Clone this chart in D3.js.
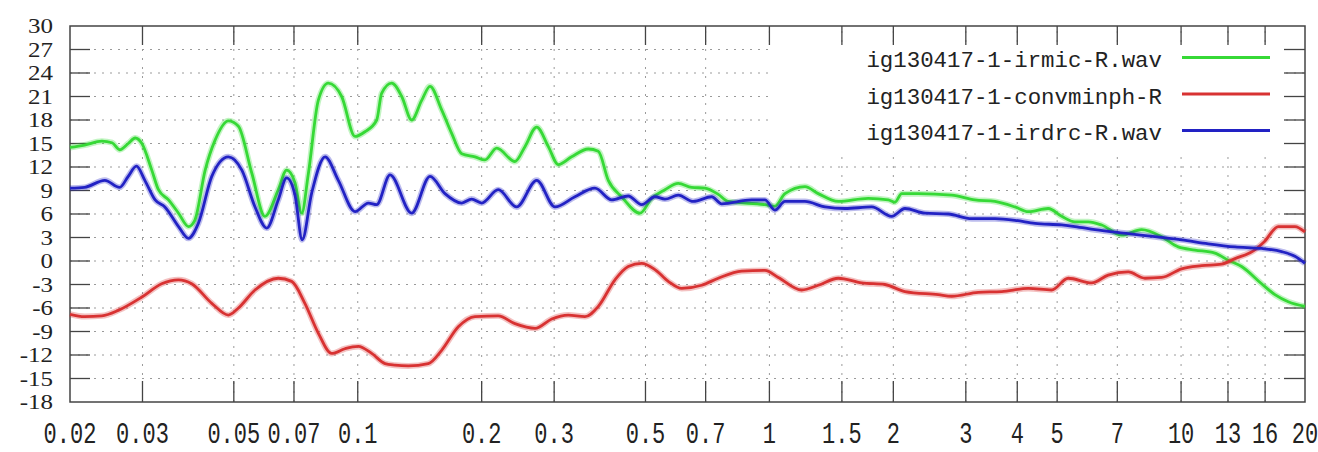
<!DOCTYPE html>
<html><head><meta charset="utf-8">
<script src="https://cdn.jsdelivr.net/npm/d3@7"></script>
<style>body{margin:0;background:#fff}svg{display:block}</style>
</head><body><svg id="c" width="1318" height="452"></svg>
<script>
const xTicks = [0.02,0.03,0.05,0.07,0.1,0.2,0.3,0.5,0.7,1,1.5,2,3,4,5,7,10,13,16,20];
const xTickLabels = ["0.02","0.03","0.05","0.07","0.1","0.2","0.3","0.5","0.7","1","1.5","2","3","4","5","7","10","13","16","20"];
const yTicks = [30,27,24,21,18,15,12,9,6,3,0,-3,-6,-9,-12,-15,-18];
const seriesNames = ["ig130417-1-irmic-R.wav","ig130417-1-convminph-R","ig130417-1-irdrc-R.wav"];
const seriesColors = ["#36d936","#d83232","#2222c4"];

const irmic = [[0.02,14.5],[0.0217,14.8],[0.0239,15.3],[0.0253,15.1],[0.0264,14.2],[0.0277,15.0],[0.0288,15.7],[0.0299,15.0],[0.0316,11.6],[0.0328,9.1],[0.0347,7.8],[0.0367,6.1],[0.0388,4.4],[0.0402,5.2],[0.0426,11.6],[0.0450,15.4],[0.0485,17.9],[0.0513,17.2],[0.0553,11.2],[0.0595,5.7],[0.0641,9.1],[0.0672,11.6],[0.0704,10],[0.0731,6.1],[0.0758,11],[0.0802,20.5],[0.0848,22.7],[0.0914,21],[0.0985,15.9],[0.1041,16.5],[0.1112,18],[0.1143,21.4],[0.1209,22.7],[0.1279,21],[0.1352,18],[0.1430,20.5],[0.1498,22.3],[0.1599,19.3],[0.1691,16.3],[0.1789,13.7],[0.1927,13.3],[0.2037,12.9],[0.2176,14.4],[0.2409,12.7],[0.2548,14.6],[0.2721,17.1],[0.2904,14.6],[0.3071,12.3],[0.3308,13.3],[0.3631,14.3],[0.3840,14],[0.4061,10.3],[0.4375,8.2],[0.4849,6.1],[0.5177,8],[0.5575,9.1],[0.6006,9.9],[0.6472,9.4],[0.6971,9.3],[0.7512,8.5],[0.7944,7.6],[0.9751,7.2],[1.031,7],[1.091,8.6],[1.220,9.5],[1.314,8.6],[1.470,7.6],[1.738,8],[1.944,7.8],[2.018,7.5],[2.096,8.6],[2.300,8.6],[2.772,8.4],[3.156,7.8],[3.531,7.6],[3.949,6.9],[4.255,6.3],[4.756,6.7],[5.128,5.7],[5.523,5],[5.949,5],[6.412,4.6],[7.171,3.3],[8.022,4],[8.970,3.1],[9.840,1.8],[10.81,1.4],[12.08,1.0],[13.02,0.1],[14.03,-0.7],[15.69,-2.9],[16.90,-4.3],[18.21,-5.2],[20,-5.8]];

const convminph = [[0.02,-6.8],[0.0217,-7.1],[0.0239,-7.0],[0.0262,-6.3],[0.0299,-4.6],[0.0334,-2.9],[0.0367,-2.4],[0.0395,-2.9],[0.0442,-5.4],[0.0485,-6.9],[0.0513,-6],[0.0563,-3.7],[0.0641,-2.2],[0.0691,-2.6],[0.0744,-5.4],[0.0802,-9.2],[0.0864,-11.8],[0.0931,-11.2],[0.1003,-10.9],[0.1081,-11.8],[0.1165,-13.1],[0.1231,-13.3],[0.1327,-13.4],[0.1484,-13.1],[0.1599,-11.4],[0.1755,-8.4],[0.1927,-7.1],[0.2194,-7.0],[0.2409,-8],[0.2696,-8.6],[0.2959,-7.4],[0.3246,-6.9],[0.3565,-7.1],[0.3840,-5.8],[0.4216,-2.4],[0.4540,-0.7],[0.4894,-0.3],[0.5272,-1.1],[0.5680,-2.6],[0.6122,-3.5],[0.6845,-3.1],[0.7512,-2.2],[0.8563,-1.3],[0.9751,-1.2],[1.051,-2.1],[1.198,-3.7],[1.314,-3.1],[1.470,-2.2],[1.675,-2.8],[1.908,-3],[2.134,-3.9],[2.570,-4.3],[2.772,-4.5],[3.216,-4],[3.666,-3.9],[4.255,-3.5],[4.848,-3.7],[5.320,-2.2],[6.065,-2.8],[6.653,-1.8],[7.442,-1.4],[8.170,-2.2],[8.970,-2.1],[10.03,-1.0],[11.22,-0.6],[12.54,-0.4],[13.52,0.3],[15.08,1.4],[15.95,2.5],[17.22,4.4],[18.90,4.4],[20,3.7]];

const irdrc = [[0.02,9.3],[0.0217,9.4],[0.0243,10.3],[0.0264,9.4],[0.0277,10.8],[0.0290,12.1],[0.0304,10.3],[0.0322,7.8],[0.0340,6.9],[0.0367,4.4],[0.0388,2.9],[0.0410,4.8],[0.0442,10.8],[0.0485,13.3],[0.0523,11.6],[0.0563,6.9],[0.0601,4.2],[0.0641,7.8],[0.0672,10.6],[0.0704,8.4],[0.0733,2.7],[0.0773,8.7],[0.0833,13.3],[0.0897,10.3],[0.0985,6.3],[0.1061,7.4],[0.1112,7.2],[0.1198,11],[0.1352,6.1],[0.1498,10.8],[0.1629,8.6],[0.1789,7.4],[0.1891,7.9],[0.2000,7.4],[0.2194,9.1],[0.2432,6.9],[0.2721,10.3],[0.3013,6.9],[0.3370,8.2],[0.3768,9.3],[0.4138,7.8],[0.4540,8.3],[0.4894,7.2],[0.5272,8.2],[0.5575,7.9],[0.6006,8.4],[0.6532,7.6],[0.7240,8.2],[0.7656,7.3],[0.9053,7.8],[0.9751,7.8],[1.031,6.5],[1.091,7.6],[1.220,7.6],[1.365,6.9],[1.526,6.7],[1.772,6.9],[1.981,5.7],[2.134,6.7],[2.388,6.1],[2.720,6],[3.100,5.4],[3.531,5.4],[3.949,5.2],[4.416,4.8],[5.128,4.6],[5.523,4.4],[6.178,4],[7.442,3.5],[8.642,3.1],[10.03,2.7],[11.64,2.2],[13.52,1.8],[15.69,1.6],[17.55,1.2],[18.90,0.6],[20,-0.3]];

const seriesData = [irmic, convminph, irdrc];

const W = 1318, H = 452;
const x = d3.scaleLog().domain([0.02, 20]).range([70, 1305]);
const y = d3.scaleLinear().domain([-18, 30]).range([402, 26]);
const svg = d3.select("#c");
svg.append("rect").attr("width", W).attr("height", H).attr("fill", "#fff");

// grid
const grid = svg.append("g");
grid.selectAll("line.h").data(yTicks.filter(v => v !== 30 && v !== -18)).join("line")
  .attr("class","h").attr("x1", x(0.02)).attr("x2", x(20))
  .attr("y1", d => y(d)).attr("y2", d => y(d))
  .attr("stroke", "#9a9a9a").attr("stroke-width", 1).attr("stroke-dasharray", "2,6");
grid.selectAll("line.v").data(xTicks.slice(1, -1)).join("line")
  .attr("class","v").attr("y1", y(-18)).attr("y2", y(30))
  .attr("x1", d => x(d)).attr("x2", d => x(d))
  .attr("stroke", "#9a9a9a").attr("stroke-width", 1).attr("stroke-dasharray", "2,7");

// legend background
svg.append("rect").attr("x", 768).attr("y", 47).attr("width", 514).attr("height", 103).attr("fill", "#fff");

// tick marks
const tk = svg.append("g").attr("stroke", "#444").attr("stroke-width", 1.3);
const yInner = yTicks.filter(v => v !== 30 && v !== -18);
tk.selectAll("line.l").data(yInner).join("line").attr("class","l")
  .attr("x1", x(0.02)).attr("x2", x(0.02) + 20).attr("y1", d => y(d)).attr("y2", d => y(d));
tk.selectAll("line.r").data(yInner).join("line").attr("class","r")
  .attr("x1", x(20) - 21).attr("x2", x(20)).attr("y1", d => y(d)).attr("y2", d => y(d));
const xInner = xTicks.slice(1, -1);
tk.selectAll("line.b").data(xInner).join("line").attr("class","b")
  .attr("x1", d => x(d)).attr("x2", d => x(d)).attr("y1", y(-18)).attr("y2", y(-18) - 21);
tk.selectAll("line.t").data(xInner).join("line").attr("class","t")
  .attr("x1", d => x(d)).attr("x2", d => x(d)).attr("y1", y(30)).attr("y2", y(30) + 19);

// frame
svg.append("rect").attr("x", x(0.02)).attr("y", y(30))
  .attr("width", x(20) - x(0.02)).attr("height", y(-18) - y(30))
  .attr("fill", "none").attr("stroke", "#444").attr("stroke-width", 1.5);

// y labels
svg.append("g").selectAll("text").data(yTicks).join("text")
  .attr("transform", d => `translate(53,${y(d)}) scale(1.25,1.05)`)
  .attr("dy", "0.35em")
  .attr("text-anchor", "end")
  .style("font-family", "'Liberation Serif', serif").style("font-size", "20px").attr("fill", "#222")
  .text(d => String(d));

// x labels
svg.append("g").selectAll("text").data(xTicks).join("text")
  .attr("transform", d => `translate(${x(d)},443) scale(1,1.3)`)
  .attr("text-anchor", "middle")
  .style("font-family", "'Liberation Mono', monospace").style("font-size", "22px").attr("fill", "#222")
  .text((d, i) => xTickLabels[i]);

// curves
const line = d3.line().x(d => x(d[0])).y(d => y(d[1])).curve(d3.curveMonotoneX);
seriesData.forEach((data, i) => {
  svg.append("path").datum(data).attr("d", line).attr("fill", "none")
    .attr("stroke", seriesColors[i]).attr("stroke-opacity", 0.3).attr("stroke-width", 6)
    .attr("stroke-linejoin", "round");
  svg.append("path").datum(data).attr("d", line).attr("fill", "none")
    .attr("stroke", seriesColors[i]).attr("stroke-width", 2.8)
    .attr("stroke-linejoin", "round");
});

// legend
const lg = svg.append("g");
seriesNames.forEach((name, i) => {
  const by = 67 + i * 36.5;
  lg.append("text").attr("x", 1162).attr("y", by).attr("text-anchor", "end")
    .style("font-family", "'Liberation Mono', monospace").style("font-size", "22.4px").attr("fill", "#222")
    .text(name);
  lg.append("line").attr("x1", 1182).attr("x2", 1270).attr("y1", by - 9.5).attr("y2", by - 9.5)
    .attr("stroke", seriesColors[i]).attr("stroke-width", 3);
});
</script></body></html>
